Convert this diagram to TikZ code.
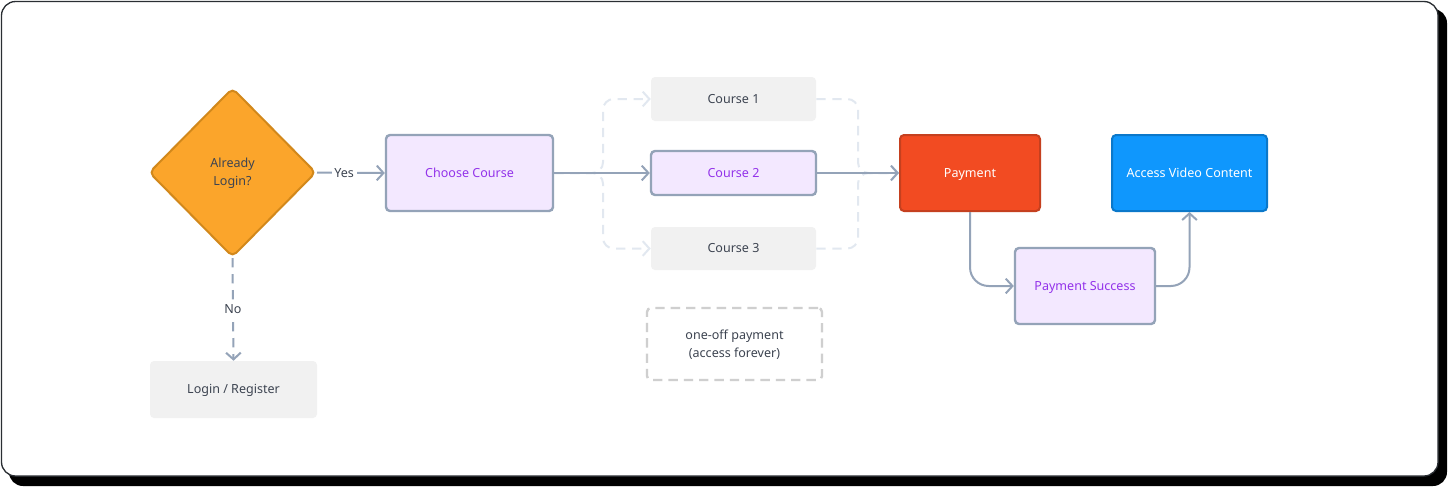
\documentclass[tikz,border=0pt]{standalone}
\usepackage{fontspec}
\setmainfont{Noto Sans}
\usetikzlibrary{shapes.geometric,arrows.meta}
\definecolor{slate}{HTML}{94A3B8}
\definecolor{lav}{HTML}{F3E8FF}
\definecolor{purp}{HTML}{9333EA}
\definecolor{grayfill}{HTML}{F1F1F1}
\definecolor{darktext}{HTML}{3D4451}
\definecolor{faint}{HTML}{E2E8F0}
\definecolor{notegray}{HTML}{CFCFCF}
\definecolor{orangefill}{HTML}{FBA52B}
\definecolor{orangeline}{HTML}{D2881B}
\definecolor{redfill}{HTML}{F24B22}
\definecolor{redline}{HTML}{C5401F}
\definecolor{bluefill}{HTML}{0F97FD}
\definecolor{blueline}{HTML}{0B78CA}
\definecolor{framegray}{HTML}{2A2E33}
\tikzset{
  sz/.style 2 args={minimum width={#1*0.75pt},minimum height={#2*0.75pt}},
  txt/.style={font=\fontsize{9.4}{13.5}\selectfont, align=center},
  oneline/.style={text height=6.7pt, text depth=0pt},
  twoline/.style={text height=20.2pt, text depth=0pt},
  basebox/.style={rectangle, rounded corners=3pt, inner sep=0pt, txt},
  lavbox/.style={basebox, fill=lav, draw=slate, line width=1.8pt, text=purp},
  graybox/.style={basebox, fill=grayfill, text=darktext},
  redbox/.style={basebox, fill=redfill, draw=redline, line width=1.5pt, text=white},
  bluebox/.style={basebox, fill=bluefill, draw=blueline, line width=1.5pt, text=white},
  notebox/.style={basebox, draw=notegray, line width=1.8pt, dash pattern=on 7pt off 4.5pt, text=darktext},
  decision/.style={diamond, aspect=1, inner sep=0pt, fill=orangefill, draw=orangeline, line width=1.5pt, rounded corners=4pt, text=darktext, txt},
  conn/.style={draw=slate, line width=1.5pt, -{Straight Barb[length=5pt,width=11pt,line width=1.5pt]}},
  faintconn/.style={draw=faint, line width=1.5pt, dash pattern=on 7pt off 5pt, rounded corners=8pt, -{Straight Barb[length=5pt,width=11pt,line width=1.5pt]}},
  dashconn/.style={conn, dash pattern=on 7pt off 5pt},
  lbl/.style={fill=white, text=darktext, txt, inner sep=2pt, oneline},
}
\begin{document}
\begin{tikzpicture}[x=0.75pt,y=-0.75pt]
\useasboundingbox (0,0) rectangle (1448,487);
% frame
\fill[black, rounded corners=10.5pt] (9,9) rectangle (1447,486);
\filldraw[fill=white, draw=framegray, line width=1pt, rounded corners=10.5pt] (1.5,1.5) rectangle (1438,476);
% nodes
\node[decision, sz={167}{169}, twoline] (dia) at (232.5,172.5) {Already\\Login?};
\node[lavbox, sz={167}{76}, oneline] (choose) at (469.5,173) {Choose Course};
\node[graybox, sz={165}{44}, oneline] (c1) at (733.5,99) {Course 1};
\node[lavbox, sz={165}{44}, oneline] (c2) at (733.5,173) {Course 2};
\node[graybox, sz={165}{43}, oneline] (c3) at (733.5,248.5) {Course 3};
\node[redbox, sz={140}{76}, oneline] (pay) at (970,173) {Payment};
\node[bluebox, sz={155}{76}, oneline] (acc) at (1189.5,173) {Access Video Content};
\node[lavbox, sz={140}{76}, oneline] (succ) at (1085,286) {Payment Success};
\node[graybox, sz={167}{57}, oneline] (login) at (233.5,389.5) {Login / Register};
\node[notebox, sz={175}{72}, twoline] (note) at (734.5,344) {one-off payment\\(access forever)};
% split / merge points
\coordinate (split) at (603,173);
\coordinate (merge) at (858,173);
% faint dashed alternatives
\draw[faintconn] (choose.east) -- (split) -- (split |- c1.west) -- (c1.west);
\draw[faintconn] (choose.east) -- (split) -- (split |- c3.west) -- (c3.west);
\draw[faintconn] (c1.east) -- (merge |- c1.east) -- (merge) -- (pay.west);
\draw[faintconn] (c3.east) -- (merge |- c3.east) -- (merge) -- (pay.west);
% main connectors
\draw[conn] (dia.east) -- node[lbl, pos=0.4] {Yes} (choose.west);
\draw[dashconn] (dia.south) -- node[lbl, pos=0.5] {No} (login.north);
\draw[conn] (choose.east) -- (c2.west);
\draw[conn] (c2.east) -- (pay.west);
\draw[conn, rounded corners=14pt] (pay.south) |- (succ.west);
\draw[conn, rounded corners=14pt] (succ.east) -| (acc.south);
\end{tikzpicture}
\end{document}
